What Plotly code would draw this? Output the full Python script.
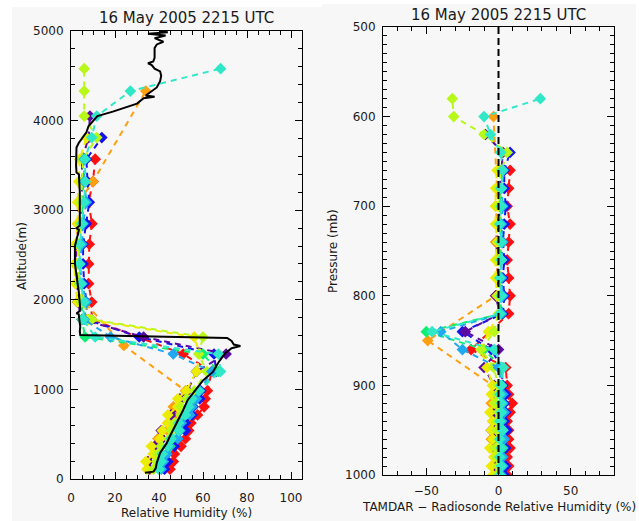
import plotly.graph_objects as go

W, H = 639, 521

# ---------------- Radiosonde profile (left panel, black line) ----------------
sonde_alt = [70, 82, 120, 180, 290, 400, 480, 550, 660, 770, 880, 970, 1100, 1195, 1300,
             1400, 1460, 1484, 1500, 1540, 1574, 1607, 1650, 1700, 1775, 1840, 1850, 1870,
             1900, 2000, 2100, 2200, 2400, 2600, 2780, 2800, 2830, 3000, 3200, 3400, 3420,
             3500, 3600, 3700, 3750, 3800, 3870, 3940, 3985, 4050, 4100, 4150, 4190, 4250,
             4265, 4280, 4340, 4370, 4440, 4500, 4550, 4580, 4620, 4640, 4660, 4700, 4740,
             4810, 4850, 4880, 4920, 4950, 4970, 4985, 5000]
sonde_rh = [33.6, 37.5, 38.5, 39, 40.5, 43.5, 45, 46.5, 48.6, 51, 53, 56, 60, 64.5, 67,
            70, 73, 77, 74, 73, 71, 4.2, 4.0, 4.2, 4.0, 3.5, 2.5, 3.8,
            4.2, 4.0, 3.5, 2.9, 1.8, 1.8, 3.6, 2.5, 4.0, 4.0, 4.0, 3.6, 2.5,
            2.3, 2.3, 2.5, 3.5, 5, 7, 8, 9.5, 12, 19, 25, 30, 33,
            38, 34, 37, 39, 40.5, 41, 40.5, 38, 36.7, 35, 37.4, 38, 38,
            38, 39, 42, 38, 43, 35, 44, 40]

# ---------------- Pressure levels and their altitudes ----------------
level_p = [1000, 990, 980, 970, 960, 950, 940, 930, 920, 910, 900, 880, 860, 850, 840,
           820, 800, 780, 760, 740, 720, 700, 680, 660, 640, 620, 600, 580]
level_alt = [110, 195, 280, 365, 450, 540, 625, 715, 805, 895, 985, 1200, 1395, 1490, 1585,
             1780, 1975, 2180, 2400, 2620, 2850, 3090, 3320, 3570, 3810, 4050, 4330, 4580]

low_p = [1000, 990, 980, 970, 960, 950, 940, 930, 920, 910, 900]

# ---------------- TAMDAR profiles ----------------
# pressure levels (mb), TAMDAR - radiosonde RH difference (%), TAMDAR RH (%)
red_p = low_p + [880, 860, 820, 800, 780, 760, 740, 720, 700, 680, 660]
red_diff = [6, 7, 6, 8, 7, 7, 6, 8, 9.5, 7, 6, 5, -19, 7, 8, 7, 6, 7, 8, 6, 7, 8]
red_rh = [45, 46.5, 47, 50, 52, 53.5, 54.5, 57.5, 60.5, 61, 62, 64, 51, 9.4, 9.4, 8, 8, 8.3, 9.5, 8, 10, 11]

blue_p = low_p + [880, 860, 840, 820, 800, 780, 760, 740, 720, 700, 680, 660, 640]
blue_diff = [4, 5, 3, 5, 4, 6, 4, 5, 4, 5, 3, 2, -5, -25, 3, 4, 3, 4, 3, 4, 5, 4, 4, 8]
blue_rh = [42.5, 44, 43.5, 47, 48.5, 52, 52, 55, 55.5, 58.5, 59, 66, 65, 31, 7, 7, 6, 5.5, 5.5, 7, 8.3, 7.5, 7, 14]

orange_p = low_p + [850, 800, 780, 760, 740, 720, 700, 680, 600]
orange_diff = [-2, -4, -3, -3, -5, -2, -4, -3, -5, -3, -4, -49, -2, -1, -1, -2, -1, -2, -1, -3.5]
orange_rh = [36, 35, 37.5, 39, 39.5, 44, 44, 47, 46.5, 50.5, 52, 24, 6, 3.5, 2.5, 2.5, 3, 3.5, 10, 34]

purple_p = low_p + [880, 860, 840, 820, 800, 780, 760, 740, 720, 700, 680, 660, 640, 620]
purple_diff = [-3, -4, -2, -4, -3, -5, -3, -4, -2, -4, -3, -10, 0, -23, 1, -2, 0, -1, -1, 0, 1, 1, 2, 3, -9]
purple_rh = [35.5, 35, 38.5, 38, 41.5, 41, 45, 45.5, 49.5, 49.5, 53, 57, 70.5, 33, 5, 3, 3, 2, 2.5, 4, 5, 5, 5, 8, 8.6]

yellow_p = low_p + [880, 860, 840, 820, 800, 780, 760, 740, 720, 700, 680, 660, 640]
yellow_diff = [-4, -5, -3, -6, -4, -5, -4, -6, -3, -5, -4, -8, -12, -7, 1, -1, -2, -2, -1, -2, -2, -2, -1, 2]
yellow_rh = [34.5, 34, 37.5, 36.5, 40.5, 41.5, 44, 44, 48.5, 48.5, 52.5, 57, 58.6, 56, 8, 3, 2, 1.5, 2, 3, 3, 3.5, 4, 7]

green_p = low_p + [880, 860, 840, 820, 800, 780, 760, 740, 720, 700, 680, 660]
green_diff = [1, 2, 1, 3, 1, 2, 2, 1, 2, 2, 2, 2, -10, -50, 2, 1, 1, 2, 1, 1, 2, 1, 2]
green_rh = [40, 41.5, 41.5, 45, 46, 48.5, 50, 51, 54, 56, 58, 67, 60, 6.4, 5, 5, 4, 3.5, 3.5, 4.5, 5.5, 5.5, 5.5]

chartreuse_p = low_p + [880, 860, 840, 820, 800, 780, 760, 740, 720, 700, 680, 660, 640, 620, 600, 580]
chartreuse_diff = [-1, 0, -1, -2, 0, -1, -1, 0, -2, -1, 0, -3.4, -12, -3, 0, 0, 1, 0, 1, 1, 0, 1, 2, 6, -10, -31, -32]
chartreuse_rh = [37.5, 39, 39.5, 41, 44.5, 45.5, 47, 50, 50, 52.5, 56, 61.7, 58, 60, 9.4, 5, 4, 3, 3.5, 4.5, 4.5, 5, 5.5, 11.7, 6, 6, 6]

skyblue_p = low_p + [880, 860, 840, 820, 800, 780, 760, 740, 720, 700, 680, 660]
skyblue_diff = [2, 3, 3, 2, 4, 3, 2, 4, 3, 3, 2, 0, -25, -40, 2, 3, 2, 2, 3, 2, 3, 2, 3]
skyblue_rh = [41, 42, 43.5, 44.5, 48.5, 49.5, 50, 54, 55, 57, 58.5, 64, 46.5, 18, 6, 7, 5, 4, 5, 5.5, 7, 6, 6]

turq_p = low_p + [880, 860, 840, 820, 800, 780, 760, 740, 720, 700, 680, 660, 640, 620, 600, 580]
turq_diff = [1, 2, 1, 2, 1, 3, 1, 2, 2, 1, 2, 3.5, -3, -46, 1, 2, 1, 2, 2, 1, 2, 2, 3, 1.5, -5.5, -10, 29]
turq_rh = [40, 41, 41.5, 44, 45.5, 49, 49, 52, 53.5, 55, 58, 68, 67, 11, 5.5, 6, 4.5, 4, 4, 5, 6, 6.5, 6.4, 9.4, 11.7, 27, 68]

series = [
    ("#ff1010", red_p, red_diff, red_rh),
    ("#1414f0", blue_p, blue_diff, blue_rh),
    ("#ffa010", orange_p, orange_diff, orange_rh),
    ("#5c0aa0", purple_p, purple_diff, purple_rh),
    ("#ecec00", yellow_p, yellow_diff, yellow_rh),
    ("#10f070", green_p, green_diff, green_rh),
    ("#b8f818", chartreuse_p, chartreuse_diff, chartreuse_rh),
    ("#20a8f0", skyblue_p, skyblue_diff, skyblue_rh),
    ("#30e8c8", turq_p, turq_diff, turq_rh),
]

zero_line_p = [500, 1000]
zero_line_x = [0, 0]

ALT_OF = dict(zip(level_p, level_alt))

fig = go.Figure()

for color, p, d, rh in series:
    alts = [ALT_OF[v] for v in p]
    fig.add_trace(go.Scatter(
        x=rh, y=alts, mode="lines+markers", xaxis="x", yaxis="y",
        line=dict(color=color, width=2, dash="6px,5px"),
        marker=dict(symbol="diamond", size=9, color=color, line=dict(width=0)),
        hoverinfo="skip", showlegend=False))
    fig.add_trace(go.Scatter(
        x=d, y=p, mode="lines+markers", xaxis="x2", yaxis="y2",
        line=dict(color=color, width=2, dash="6px,5px"),
        marker=dict(symbol="diamond", size=9, color=color, line=dict(width=0)),
        hoverinfo="skip", showlegend=False))

fig.add_trace(go.Scatter(x=sonde_rh, y=sonde_alt, mode="lines", xaxis="x", yaxis="y",
                         line=dict(color="black", width=2), hoverinfo="skip", showlegend=False))
fig.add_trace(go.Scatter(x=zero_line_x, y=zero_line_p, mode="lines", xaxis="x2", yaxis="y2",
                         line=dict(color="black", width=2, dash="7px,4px"),
                         hoverinfo="skip", showlegend=False))

FONT = "DejaVu Sans"
TXT = "#1a1a1a"
axis_common = dict(showline=True, linecolor="black", linewidth=1, mirror="allticks",
                   ticks="inside", ticklen=7, tickwidth=1, tickcolor="black",
                   showgrid=False, zeroline=False, automargin=False,
                   tickfont=dict(family=FONT, size=12, color=TXT))


def px_x(v):
    return v / W


def px_y(v):
    return 1 - v / H


fig.update_layout(
    width=W, height=H, autosize=False,
    margin=dict(l=0, r=0, t=0, b=0, pad=0),
    paper_bgcolor="white", plot_bgcolor="#f7f7f7",
    showlegend=False,
    xaxis=dict(domain=[px_x(71), px_x(302)], range=[0, 105], tick0=0, dtick=20,
               minor=dict(ticks="inside", dtick=5, ticklen=4, tickcolor="black"),
               anchor="y", ticklabelstandoff=8, **axis_common),
    yaxis=dict(domain=[px_y(479), px_y(31)], range=[0, 5000], tick0=0, dtick=1000,
               minor=dict(ticks="inside", dtick=200, ticklen=4, tickcolor="black"),
               anchor="x", ticklabelstandoff=4, **axis_common),
    xaxis2=dict(domain=[px_x(383), px_x(614)], range=[-80, 80], tick0=0, dtick=50,
                minor=dict(ticks="inside", dtick=10, ticklen=4, tickcolor="black"),
                anchor="y2", ticklabelstandoff=5, **axis_common),
    yaxis2=dict(domain=[px_y(475), px_y(27)], range=[1000, 500], tick0=500, dtick=100,
                minor=dict(ticks="inside", dtick=10, ticklen=4, tickcolor="black"),
                anchor="x2", ticklabelstandoff=4, **axis_common),
    shapes=[
        dict(type="rect", xref="paper", yref="paper", x0=px_x(12), x1=px_x(322),
             y0=0, y1=px_y(7), fillcolor="#f7f7f7", line=dict(width=0), layer="below"),
        dict(type="rect", xref="paper", yref="paper", x0=px_x(322), x1=px_x(636),
             y0=0, y1=px_y(4), fillcolor="#f7f7f7", line=dict(width=0), layer="below"),
    ],
)

ann = [
    ("16 May 2005 2215 UTC", 186.5, 18, 15, 0),
    ("16 May 2005 2215 UTC", 499, 15, 15, 0),
    ("Relative Humidity (%)", 186.5, 513, 12, 0),
    ("TAMDAR \u2212 Radiosonde Relative Humidity (%)", 498.5, 507, 12, 0),
    ("Altitude(m)", 22, 256, 12, -90),
    ("Pressure (mb)", 333, 251, 12, -90),
]
for text, x, y, size, ang in ann:
    fig.add_annotation(text=text, xref="paper", yref="paper", x=px_x(x), y=px_y(y),
                       xanchor="center", yanchor="middle", showarrow=False, textangle=ang,
                       font=dict(family=FONT, size=size, color=TXT))

fig.write_html("out.html",
               post_script="document.body.style.margin='0';document.body.style.overflow='hidden';")
